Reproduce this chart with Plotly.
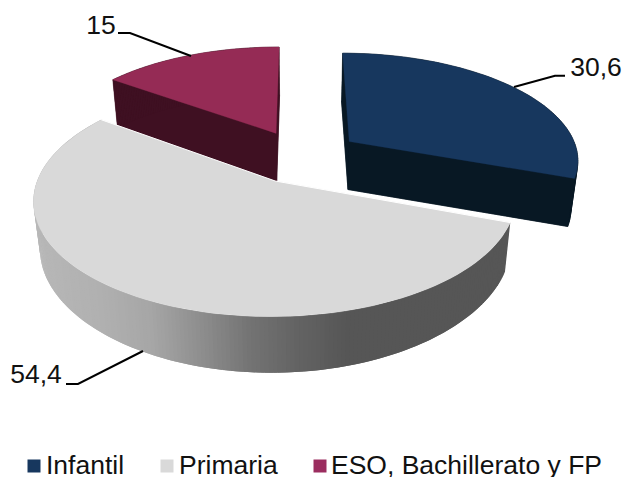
import numpy as np
import plotly.graph_objects as go

# ---- data
categories = ["Infantil", "Primaria", "ESO, Bachillerato y FP"]
values = [30.6, 54.4, 15.0]
value_labels = ["30,6", "54,4", "15"]

# ---- style
top_colors = ["#17375e", "#d9d9d9", "#952b55"]
side_colors = ["#081824", None, "#3f1022"]
legend_colors = ["#17375e", "#d9d9d9", "#9b2d5f"]
FONT = "Liberation Sans"
W, H = 623, 477

# ---- projection of the pie plane into the picture (perspective view)
X0, Y0, A, B, K, SHRINK = 299.0, 181.0, 238.0, 114.0, 0.16, 0.025
# slice apexes on the pie plane (exploded slices)
apex = [(0.2233, -0.3666), (-0.10, 0.0), (-0.103, -0.4476)]


def project(X, V, lower=False):
    X, V = np.asarray(X, float), np.asarray(V, float)
    s = 1.0 / (1.0 - K * V)
    x = X0 + A * X * s
    y = Y0 + B * V * s
    if lower:
        x = X0 + (x - X0) * (1 - SHRINK)
        y = y + 48 + 8 * np.clip(V, 0, None) ** 2
    return x, y


def rim(i, a0, a1, n=90):
    t = np.linspace(a0, a1, n)
    return apex[i][0] + np.sin(t), apex[i][1] - np.cos(t)


def wedge(i, a0, a1, lower=False):
    X, V = rim(i, a0, a1)
    X = np.r_[apex[i][0], X, apex[i][0]]
    V = np.r_[apex[i][1], V, apex[i][1]]
    return project(X, V, lower)


def poly(x, y, color, width=0.5):
    return go.Scatter(x=list(x), y=list(y), mode="lines", fill="toself", fillcolor=color,
                      line=dict(color=color, width=width), hoverinfo="skip", showlegend=False)


edges = 2 * np.pi * np.r_[0, np.cumsum(values)] / np.sum(values)
fig = go.Figure()


def extrusion(i):
    a0, a1 = edges[i], edges[i + 1]
    c = side_colors[i]
    lx, ly = wedge(i, a0, a1, True)
    ux, uy = wedge(i, a0, a1)
    fig.add_trace(poly(lx, ly, c))
    for k in range(len(ux) - 1):
        fig.add_trace(poly([ux[k], ux[k + 1], lx[k + 1], lx[k]], [uy[k], uy[k + 1], ly[k + 1], ly[k]], c))
    fig.add_trace(poly(ux, uy, top_colors[i], width=0.3))


# back slices first
extrusion(2)
extrusion(0)

# middle slice: shaded rim, then top
GRAD_X = [30, 100, 150, 200, 250, 300, 350, 640]
GRAD_V = [184, 176, 166, 142, 115, 98, 86, 86]
a0, a1 = edges[1], edges[2]
t = np.linspace(a0, a1, 221)
rx, rv = apex[1][0] + np.sin(t), apex[1][1] - np.cos(t)
ux, uy = project(rx, rv)
lx, ly = project(rx, rv, True)
for k in range(len(t) - 1):
    g = int(round(np.interp((ux[k] + ux[k + 1]) / 2, GRAD_X, GRAD_V)))
    c = f"rgb({g},{g},{g})"
    e = min(k + 2, len(t) - 1)
    fig.add_trace(go.Scatter(x=[ux[k], ux[k + 1], ux[e], lx[e], lx[k + 1], lx[k]],
                             y=[uy[k], uy[k + 1], uy[e], ly[e], ly[k + 1], ly[k]],
                             mode="lines", fill="toself", fillcolor=c, line=dict(width=0),
                             hoverinfo="skip", showlegend=False))
gx, gy = wedge(1, a0, a1)
fig.add_trace(poly(gx, gy, top_colors[1], width=0.3))
# thin white seam along the two straight edges of the middle slice
fig.add_trace(go.Scatter(x=[gx[1], gx[0], gx[-2]], y=[gy[1], gy[0], gy[-2]], mode="lines",
                         line=dict(color="white", width=1), hoverinfo="skip", showlegend=False))

# leader lines
leaders = [([565, 555, 514], [75.7, 75.7, 87]),
           ([66, 78, 143], [384, 384, 351]),
           ([118, 130, 191], [33, 33, 56])]
for lxs, lys in leaders:
    fig.add_trace(go.Scatter(x=lxs, y=lys, mode="lines", line=dict(color="black", width=2),
                             hoverinfo="skip", showlegend=False))

# data labels
label_pos = [(596, 69), (36, 376.5), (101, 27)]
fig.add_trace(go.Scatter(x=[p[0] for p in label_pos], y=[p[1] for p in label_pos], mode="text",
                         text=value_labels, textposition="middle center",
                         textfont=dict(family=FONT, size=26.5, color="#111111"),
                         hoverinfo="skip", showlegend=False))

# legend row
legend_marker_x = [34, 167, 320]
legend_text_x = [46, 179, 331]
legend_marker_y = 466
legend_text_y = 467
for name, col, mx, tx in zip(categories, legend_colors, legend_marker_x, legend_text_x):
    fig.add_trace(go.Scatter(x=[mx], y=[legend_marker_y], mode="markers", name=name,
                             marker=dict(symbol="square", size=13, color=col),
                             hoverinfo="skip", showlegend=False))
    fig.add_trace(go.Scatter(x=[tx], y=[legend_text_y], mode="text", text=[name],
                             textposition="middle right",
                             textfont=dict(family=FONT, size=26.5, color="#111111"),
                             hoverinfo="skip", showlegend=False, cliponaxis=False))

fig.update_layout(
    width=W, height=H, margin=dict(l=0, r=0, t=0, b=0),
    paper_bgcolor="white", plot_bgcolor="white", showlegend=False,
    xaxis=dict(range=[0, W], visible=False, fixedrange=True),
    yaxis=dict(range=[H, 0], visible=False, fixedrange=True),
)
fig.write_html("out.html", config={"displayModeBar": False},
               post_script="document.body.style.margin='0';document.documentElement.style.overflow='hidden';")
